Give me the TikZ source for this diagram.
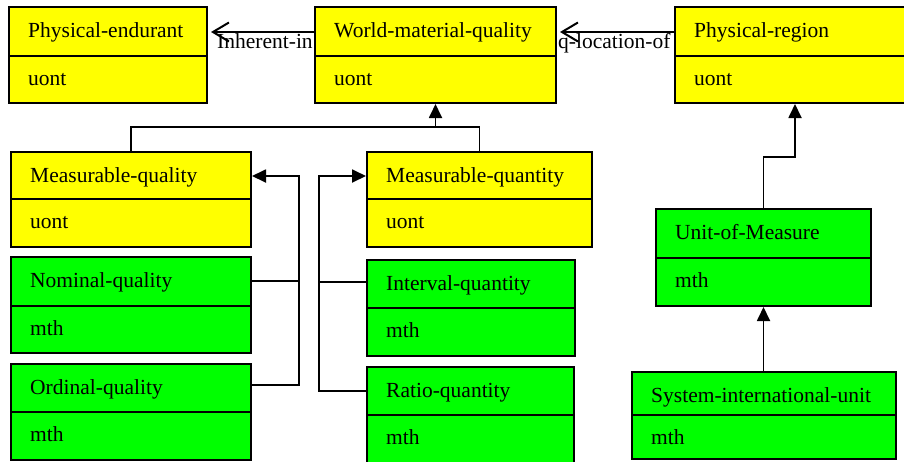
\documentclass[tikz,border=0pt]{standalone}
\usepackage{fontspec}
\setmainfont{Liberation Serif}
\usetikzlibrary{arrows.meta,fit}
\definecolor{ylw}{HTML}{FFFF00}
\definecolor{grn}{HTML}{00FF00}
\tikzset{
  classbox/.style={draw, line width=2pt, inner sep=0pt},
  lbl/.style={anchor=base west, inner sep=0pt, font=\fontsize{21.5}{25}\selectfont},
  conn/.style={line width=1.8pt},
  gen/.style={conn, -{Triangle[length=14pt,width=13pt]}},
  assoc/.style={conn, -{Straight Barb[length=16pt,width=19pt,line width=2pt]}, shorten >=3pt}
}
\newcommand\umlclass[9]{%
  \node[classbox, fill=#9, fit={(#2,#3) (#4,#5)}] (#1) {};
  \draw[line width=2pt] (#2,#6) -- (#4,#6);
  \node[lbl] (#1-t) at (#2+19,#3+30) {#7};
  \node[lbl] (#1-a) at (#2+19,#6+29) {#8};
}
\begin{document}
\begin{tikzpicture}[x=1pt,y=-1pt]
\useasboundingbox (0,0) rectangle (904,461);
\clip (0,0) rectangle (904,461);
\fill[white] (0,0) rectangle (904,461);

\umlclass{pe}{9}{7}{207}{103}{56}{Physical-endurant}{uont}{ylw}
\umlclass{wmq}{315}{7}{556}{103}{56}{World-material-quality}{uont}{ylw}
\umlclass{pr}{675}{7}{915}{103}{56}{Physical-region}{uont}{ylw}
\umlclass{mql}{11}{152}{251}{247}{199}{Measurable-quality}{uont}{ylw}
\umlclass{mqn}{367}{152}{592}{247}{199}{Measurable-quantity}{uont}{ylw}
\umlclass{nq}{11}{257}{251}{353}{306}{Nominal-quality}{mth}{grn}
\umlclass{oq}{11}{364}{251}{460}{412}{Ordinal-quality}{mth}{grn}
\umlclass{iq}{367}{260}{575}{356}{308}{Interval-quantity}{mth}{grn}
\umlclass{rq}{367}{367}{574}{464}{415}{Ratio-quantity}{mth}{grn}
\umlclass{uom}{656}{209}{871}{306}{258}{Unit-of-Measure}{mth}{grn}
\umlclass{siu}{632}{372}{896}{459}{415}{System-international-unit}{mth}{grn}

% associations
\draw[assoc] ([yshift=-26pt]wmq.north west) -- ([yshift=-26pt]pe.north east);
\draw[assoc] ([yshift=-26pt]pr.north west) -- ([yshift=-26pt]wmq.north east);
\node[lbl] (l1) at (217,48) {Inherent-in};
\node[lbl] (l2) at (558,48) {q-location-of};

% generalization to World-material-quality
\coordinate (j1) at (435.5,127);
\draw[conn] (mql.north) |- (j1) -| (mqn.north);
\draw[gen] (j1) -- (wmq.south);

% qualities
\coordinate (j2) at (299,176);
\coordinate (nqR) at ([yshift=-25pt]nq.north east);
\coordinate (oqR) at ([yshift=-22pt]oq.north east);
\draw[conn] (nqR) -- (nqR -| j2);
\draw[gen] (oqR) -| (j2) -- (j2 -| mql.east);

% quantities
\coordinate (j3) at (319,176);
\coordinate (iqL) at ([yshift=-23pt]iq.north west);
\coordinate (rqL) at ([yshift=-25pt]rq.north west);
\draw[conn] (iqL) -- (iqL -| j3);
\draw[gen] (rqL) -| (j3) -- (j3 -| mqn.west);

% units
\draw[gen] (uom.south |- siu.north) -- (uom.south);
\coordinate (j4) at (795,157);
\draw[gen] (uom.north) |- (j4) -- (pr.south);
\end{tikzpicture}
\end{document}
